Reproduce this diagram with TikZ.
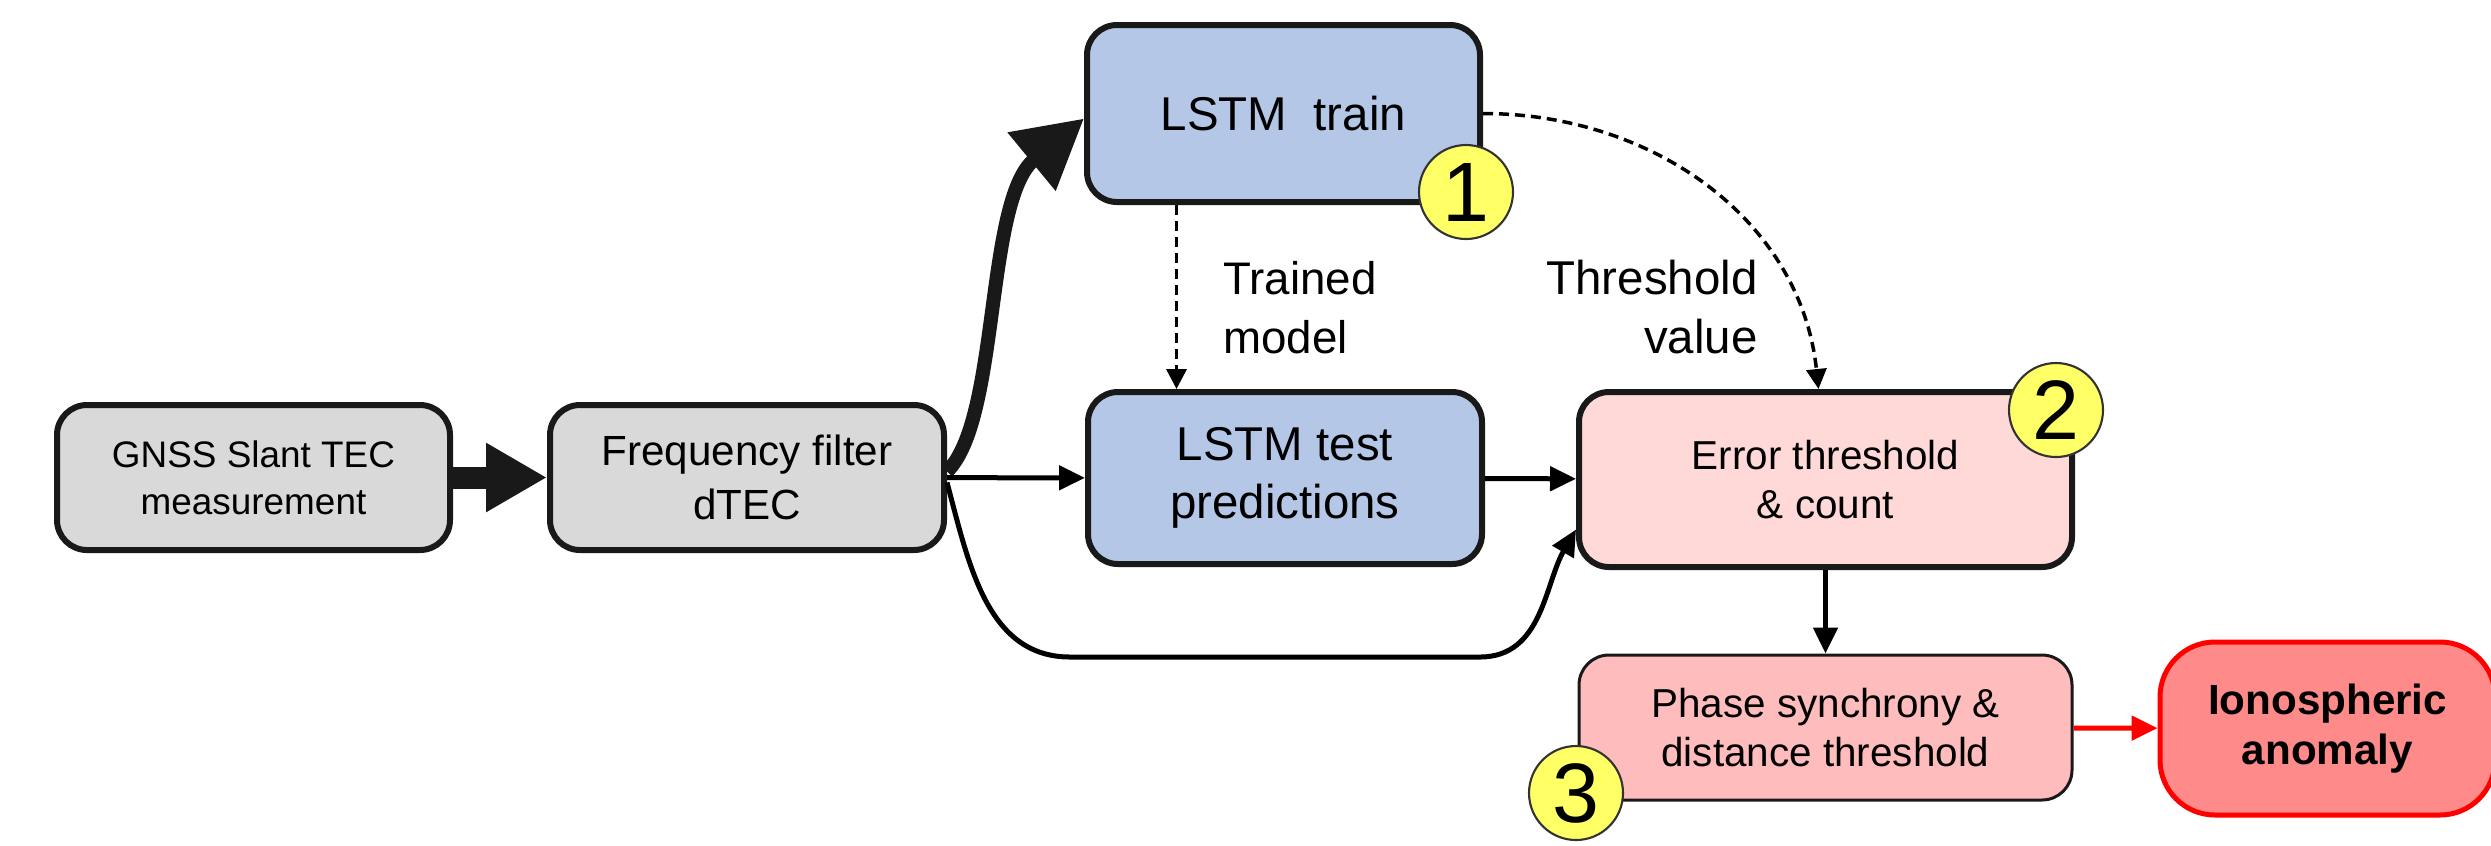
\documentclass[tikz,border=0pt]{standalone}
\usepackage{fontspec}
\setmainfont{Liberation Sans}
\usetikzlibrary{arrows.meta}
\definecolor{boxgray}{HTML}{D9D9D9}
\definecolor{lstmblue}{HTML}{B4C7E7}
\definecolor{errpink}{HTML}{FFD8D8}
\definecolor{phasepink}{HTML}{FFBCBC}
\definecolor{anomred}{HTML}{FF8A8A}
\definecolor{badgeyellow}{HTML}{FFFF66}

\begin{document}
\begin{tikzpicture}[
  box/.style={draw=black!90, line width=0.06cm, rounded corners=0.3cm, align=center, inner sep=0pt},
  badge/.style={circle, draw=black!80, line width=0.6pt, fill=badgeyellow, minimum size=0.94cm, inner sep=0pt, font=\fontsize{24}{24}\selectfont},
  arr/.style={line width=0.05cm, -{Triangle[length=0.26cm,width=0.24cm]}},
  dasharr/.style={line width=0.035cm, dash pattern=on 0.1cm off 0.06cm, -{Triangle[length=0.2cm,width=0.2cm]}}]
\useasboundingbox (0,0) rectangle (24.91,-8.45);
\node[box, fill=boxgray, minimum width=3.93cm, minimum height=1.45cm, font=\fontsize{10.5}{13.4}\selectfont] (gnss) at (2.535,-4.775) {GNSS Slant TEC\\measurement};
\node[box, fill=boxgray, minimum width=3.94cm, minimum height=1.45cm, font=\fontsize{12}{15.4}\selectfont] (freq) at (7.47,-4.775) {Frequency filter\\dTEC};
\node[box, fill=lstmblue, minimum width=3.93cm, minimum height=1.77cm, font=\fontsize{13.5}{16.5}\selectfont] (train) at (12.835,-1.135) {LSTM\ \ train};
\node[box, fill=lstmblue, minimum width=3.94cm, minimum height=1.72cm, font=\fontsize{13.5}{16.5}\selectfont] (test) at (12.85,-4.78) {LSTM test\\predictions};
\node[box, fill=errpink, minimum width=4.93cm, minimum height=1.75cm, font=\fontsize{11.5}{14.2}\selectfont] (error) at (18.255,-4.795) {Error threshold\\\& count};
\node[box, fill=phasepink, line width=0.03cm, minimum width=4.93cm, minimum height=1.45cm, font=\fontsize{11.5}{14.2}\selectfont] (phase) at (18.255,-7.275) {Phase synchrony \&\\distance threshold};
\node[box, draw=red, fill=anomred, line width=0.05cm, rounded corners=0.55cm, minimum width=3.35cm, minimum height=1.73cm, font=\fontsize{12}{14.2}\selectfont\bfseries] (anomaly) at (23.275,-7.285) {Ionospheric\\anomaly};

\node[anchor=west, align=left, font=\fontsize{13}{16.8}\selectfont] (trained) at (12.11,-3.075) {Trained\\model};
\node[anchor=east, align=right, font=\fontsize{13.5}{16.8}\selectfont] (thresh) at (17.70,-3.075) {Threshold\\value};

\draw[line width=0.22cm, black!90, -{Triangle[length=0.61cm,width=0.65cm]}] (gnss) -- (freq);
\draw[line width=0.14cm, black!90, -{Triangle[length=0.68cm,width=0.72cm]}] ([yshift=0.06cm]freq.east) .. controls (10.0,-4.2) and (9.85,-2.0) .. ([yshift=-0.05cm]train.west);
\draw[arr] (freq) -- (test);
\draw[arr] ([yshift=-0.05cm]freq.east) to[out=-75,in=180] (10.7,-6.57) -- (14.8,-6.57) to[out=0,in=240] ([yshift=-0.5cm]error.west);
\draw[arr] (test) -- (error);
\draw[arr] (error) -- (phase);
\draw[arr, red] (phase) -- (anomaly);
\draw[dasharr] ([xshift=-1.07cm]train.south) -- ([xshift=-1.07cm]train.south |- test.north);
\draw[dasharr] (train.east) to[out=0,in=96] ([xshift=-0.07cm]error.north);

\node[badge] (one) at (14.66,-1.92) {1};
\node[badge] (two) at (20.56,-4.10) {2};
\node[badge] (three) at (15.76,-7.93) {3};
\end{tikzpicture}
\end{document}
